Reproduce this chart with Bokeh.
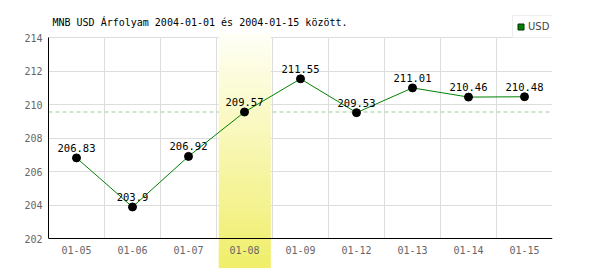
from bokeh.plotting import figure
from bokeh.models import Range1d, FixedTicker, Span, Legend, LegendItem, ColumnDataSource, Label
from bokeh.embed import file_html
from bokeh.resources import INLINE
from bokeh.core.properties import value

# ---- data ----
dates = ["01-05", "01-06", "01-07", "01-08", "01-09", "01-12", "01-13", "01-14", "01-15"]
rates = [206.83, 203.9, 206.92, 209.57, 211.55, 209.53, 211.01, 210.46, 210.48]
rate_labels = ["206.83", "203.9", "206.92", "209.57", "211.55", "209.53", "211.01", "210.46", "210.48"]
highlight_date = "01-08"
y_ticks = [202, 204, 206, 208, 210, 212, 214]
title_text = "MNB USD Árfolyam 2004-01-01 és 2004-01-15 között."
series_name = "USD"

n = len(dates)
xs = [i + 0.5 for i in range(n)]
hi = dates.index(highlight_date)
y_lo, y_hi = y_ticks[0], y_ticks[-1]

MONO = "DejaVu Sans Mono"

# frame spans nearly the whole canvas vertically so the highlight band can
# reach below the x axis; the axis is drawn at a fixed location (y = 202)
PX_PER_UNIT = 16.75
y_start = y_lo - 29.7 / PX_PER_UNIT
y_end = y_hi + 27.3 / PX_PER_UNIT

p = figure(width=600, height=270, x_range=Range1d(0, n), y_range=Range1d(y_start, y_end),
           output_backend="svg", toolbar_location=None,
           min_border_left=48, min_border_right=48, min_border_top=10, min_border_bottom=2)
p.outline_line_color = None
p.background_fill_color = "white"
p.border_fill_color = "white"

# axes
p.xaxis.ticker = FixedTicker(ticks=xs)
p.xaxis.major_label_overrides = {x: d for x, d in zip(xs, dates)}
p.xaxis.fixed_location = y_lo
p.xaxis.bounds = (0, n)
p.yaxis.ticker = FixedTicker(ticks=y_ticks)
p.yaxis.bounds = (y_lo, y_hi)
for ax in (p.xaxis[0], p.yaxis[0]):
    ax.major_tick_line_color = None
    ax.minor_tick_line_color = None
    ax.major_tick_out = 0
    ax.major_tick_in = 0
    ax.axis_line_color = "black"
    ax.axis_line_width = 1
    ax.major_label_text_font = MONO
    ax.major_label_text_font_size = "10px"
    ax.major_label_text_color = "#666666"
p.xaxis.major_label_standoff = 7
p.yaxis.major_label_standoff = 6

# grids at category boundaries, limited to the plotted value range
p.xgrid.ticker = FixedTicker(ticks=list(range(n + 1)))
p.ygrid.ticker = FixedTicker(ticks=y_ticks)
p.xgrid.grid_line_color = "#dddddd"
p.ygrid.grid_line_color = "#dddddd"
p.xgrid.cross_bounds = (y_lo, y_hi)
p.ygrid.cross_bounds = (0, n)
p.ygrid.bounds = (y_lo, y_hi)

# title
p.add_layout(Label(x=0, y=y_hi + 0.91, x_offset=4, text=title_text, text_font=MONO,
                   text_font_size="10px", text_color="black", text_baseline="middle"))

# dashed reference line at highlighted day's value
p.add_layout(Span(location=rates[hi], dimension="width", line_color="#99cc99",
                  line_dash="4 3", line_width=1, level="underlay"))

# highlight band with vertical gradient (stacked strips)
steps = 48
top_v = y_hi + 0.25
bot_v = y_lo - 1.73
c0 = (255, 255, 246)
c1 = (240, 238, 105)
cols, tops, bots = [], [], []
for k in range(steps):
    t = (k + 0.5) / steps
    cols.append("#%02x%02x%02x" % tuple(int(round(a + (b - a) * t)) for a, b in zip(c0, c1)))
    tops.append(top_v - (top_v - bot_v) * k / steps)
    bots.append(top_v - (top_v - bot_v) * (k + 1) / steps - 0.03)
p.quad(left=[hi + 0.04] * steps, right=[hi + 0.97] * steps, top=tops, bottom=bots,
       fill_color=cols, line_color=None)

src = ColumnDataSource(dict(x=xs, y=rates, lab=rate_labels))
p.line("x", "y", source=src, line_color="#008000", line_width=1)
p.scatter("x", "y", source=src, size=8, fill_color="black", line_color="black")
p.text("x", "y", text="lab", source=src, text_font=value(MONO), text_font_size="10.5px",
       text_align="center", text_baseline="bottom", y_offset=-6, text_color="black")

# legend swatch: square marker of zero size on the series (only visible in the legend)
leg_r = p.scatter("x", "y", source=src, marker="square", size=0,
                  fill_color="#008000", line_color="#003300")
legend = Legend(items=[LegendItem(label=series_name, renderers=[leg_r])], location=(464, 230),
                border_line_color="#dddddd", padding=0, margin=0, spacing=0,
                glyph_width=15, glyph_height=21, label_standoff=-3, label_height=21, label_width=27,
                label_text_font="DejaVu Sans", label_text_font_size="10px", label_text_color="#444444",
                label_text_baseline="middle", background_fill_alpha=1)
p.add_layout(legend)

open("out.html", "w").write(file_html(p, INLINE))
